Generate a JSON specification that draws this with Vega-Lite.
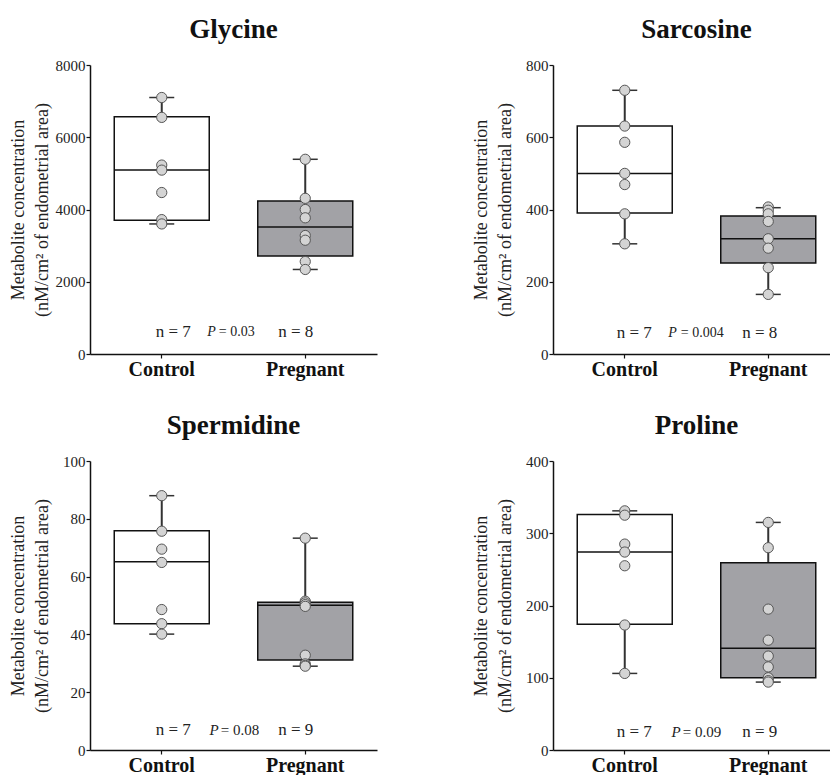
{
  "$schema": "https://vega.github.io/schema/vega-lite/v6.json",
  "padding": {"left": 9, "top": 16, "right": 0, "bottom": 0},
  "spacing": {"row": 33, "column": 95},
  "columns": 2,
  "datasets": {
    "points": [
      {"m": "Glycine", "g": "Control", "v": 7100}, {"m": "Glycine", "g": "Control", "v": 6550}, {"m": "Glycine", "g": "Control", "v": 5230}, {"m": "Glycine", "g": "Control", "v": 5090}, {"m": "Glycine", "g": "Control", "v": 4470}, {"m": "Glycine", "g": "Control", "v": 3720}, {"m": "Glycine", "g": "Control", "v": 3600},
      {"m": "Glycine", "g": "Pregnant", "v": 5390}, {"m": "Glycine", "g": "Pregnant", "v": 4310}, {"m": "Glycine", "g": "Pregnant", "v": 4000}, {"m": "Glycine", "g": "Pregnant", "v": 3770}, {"m": "Glycine", "g": "Pregnant", "v": 3280}, {"m": "Glycine", "g": "Pregnant", "v": 3150}, {"m": "Glycine", "g": "Pregnant", "v": 2560}, {"m": "Glycine", "g": "Pregnant", "v": 2340},
      {"m": "Sarcosine", "g": "Control", "v": 730}, {"m": "Sarcosine", "g": "Control", "v": 631}, {"m": "Sarcosine", "g": "Control", "v": 586}, {"m": "Sarcosine", "g": "Control", "v": 500}, {"m": "Sarcosine", "g": "Control", "v": 469}, {"m": "Sarcosine", "g": "Control", "v": 388}, {"m": "Sarcosine", "g": "Control", "v": 305},
      {"m": "Sarcosine", "g": "Pregnant", "v": 407}, {"m": "Sarcosine", "g": "Pregnant", "v": 398}, {"m": "Sarcosine", "g": "Pregnant", "v": 388}, {"m": "Sarcosine", "g": "Pregnant", "v": 367}, {"m": "Sarcosine", "g": "Pregnant", "v": 319}, {"m": "Sarcosine", "g": "Pregnant", "v": 293}, {"m": "Sarcosine", "g": "Pregnant", "v": 239}, {"m": "Sarcosine", "g": "Pregnant", "v": 165},
      {"m": "Spermidine", "g": "Control", "v": 88.0}, {"m": "Spermidine", "g": "Control", "v": 75.7}, {"m": "Spermidine", "g": "Control", "v": 69.5}, {"m": "Spermidine", "g": "Control", "v": 64.9}, {"m": "Spermidine", "g": "Control", "v": 48.6}, {"m": "Spermidine", "g": "Control", "v": 43.7}, {"m": "Spermidine", "g": "Control", "v": 40.1},
      {"m": "Spermidine", "g": "Pregnant", "v": 73.3}, {"m": "Spermidine", "g": "Pregnant", "v": 51.5}, {"m": "Spermidine", "g": "Pregnant", "v": 50.9}, {"m": "Spermidine", "g": "Pregnant", "v": 50.3}, {"m": "Spermidine", "g": "Pregnant", "v": 49.7}, {"m": "Spermidine", "g": "Pregnant", "v": 32.8}, {"m": "Spermidine", "g": "Pregnant", "v": 29.8}, {"m": "Spermidine", "g": "Pregnant", "v": 29.3}, {"m": "Spermidine", "g": "Pregnant", "v": 29.0},
      {"m": "Proline", "g": "Control", "v": 331}, {"m": "Proline", "g": "Control", "v": 325}, {"m": "Proline", "g": "Control", "v": 285}, {"m": "Proline", "g": "Control", "v": 274}, {"m": "Proline", "g": "Control", "v": 255}, {"m": "Proline", "g": "Control", "v": 173}, {"m": "Proline", "g": "Control", "v": 106},
      {"m": "Proline", "g": "Pregnant", "v": 315}, {"m": "Proline", "g": "Pregnant", "v": 280}, {"m": "Proline", "g": "Pregnant", "v": 195}, {"m": "Proline", "g": "Pregnant", "v": 152}, {"m": "Proline", "g": "Pregnant", "v": 130}, {"m": "Proline", "g": "Pregnant", "v": 115}, {"m": "Proline", "g": "Pregnant", "v": 100}, {"m": "Proline", "g": "Pregnant", "v": 96}, {"m": "Proline", "g": "Pregnant", "v": 94}
    ],
    "boxes": [
      {"m": "Glycine", "g": "Control", "lo": 3600, "q1": 3700, "med": 5090, "q3": 6570, "hi": 7100},
      {"m": "Glycine", "g": "Pregnant", "lo": 2340, "q1": 2710, "med": 3515, "q3": 4235, "hi": 5390},
      {"m": "Sarcosine", "g": "Control", "lo": 305, "q1": 390, "med": 500, "q3": 631, "hi": 730},
      {"m": "Sarcosine", "g": "Pregnant", "lo": 165, "q1": 252, "med": 319, "q3": 382, "hi": 405},
      {"m": "Spermidine", "g": "Control", "lo": 40.1, "q1": 43.7, "med": 65.1, "q3": 75.9, "hi": 88.0},
      {"m": "Spermidine", "g": "Pregnant", "lo": 29.0, "q1": 31.1, "med": 50.1, "q3": 51.1, "hi": 73.3},
      {"m": "Proline", "g": "Control", "lo": 106, "q1": 174, "med": 274, "q3": 326, "hi": 331},
      {"m": "Proline", "g": "Pregnant", "lo": 94, "q1": 100, "med": 141, "q3": 259, "hi": 315}
    ],
    "labels": [
      {"m": "Glycine", "g": "Control", "t": "n = 7", "y": 600},
      {"m": "Glycine", "g": "Pregnant", "t": "n = 8", "y": 600},
      {"m": "Sarcosine", "g": "Control", "t": "n = 7", "y": 58},
      {"m": "Sarcosine", "g": "Pregnant", "t": "n = 8", "y": 58},
      {"m": "Spermidine", "g": "Control", "t": "n = 7", "y": 6.8},
      {"m": "Spermidine", "g": "Pregnant", "t": "n = 9", "y": 6.8},
      {"m": "Proline", "g": "Control", "t": "n = 7", "y": 25},
      {"m": "Proline", "g": "Pregnant", "t": "n = 9", "y": 25}
    ],
    "pvals": [
      {"m": "Glycine", "g": "Control", "p": "= 0.03", "y": 600},
      {"m": "Sarcosine", "g": "Control", "p": "= 0.004", "y": 58},
      {"m": "Spermidine", "g": "Control", "p": "= 0.08", "y": 6.8},
      {"m": "Proline", "g": "Control", "p": "= 0.09", "y": 25}
    ]
  },
  "concat": [
    {
      "title": "Glycine", "width": 287, "height": 289,
      "layer": [
        {"data": {"name": "boxes"}, "transform": [{"filter": "datum.m === 'Glycine'"}], "mark": {"type": "rule", "color": "#333", "strokeWidth": 2},
         "encoding": {"x": {"field": "g", "type": "nominal", "scale": {"domain": ["Control", "Pregnant"], "paddingInner": 0, "paddingOuter": 0}},
           "y": {"field": "lo", "type": "quantitative", "scale": {"domain": [0, 8000], "nice": false}, "axis": {"title": ["Metabolite concentration", "(nM/cm² of endometrial area)"], "values": [0, 1000, 2000, 3000, 4000, 5000, 6000, 7000, 8000], "labelExpr": "datum.value % 2000 === 0 ? datum.label : ''", "tickSize": {"condition": {"test": "datum.value % 2000 === 0", "value": 4}, "value": 2.5}}},
           "y2": {"field": "hi"}}},
        {"data": {"name": "boxes"}, "transform": [{"filter": "datum.m === 'Glycine'"}], "mark": {"type": "bar", "size": 95, "stroke": "#111", "strokeWidth": 1.5},
         "encoding": {"x": {"field": "g", "type": "nominal"}, "y": {"field": "q1", "type": "quantitative"}, "y2": {"field": "q3"},
           "fill": {"field": "g", "type": "nominal", "scale": {"domain": ["Control", "Pregnant"], "range": ["#ffffff", "#a2a2a6"]}, "legend": null}}},
        {"data": {"name": "boxes"}, "transform": [{"filter": "datum.m === 'Glycine'"}], "mark": {"type": "tick", "size": 95, "thickness": 1.5, "color": "#111", "opacity": 1},
         "encoding": {"x": {"field": "g", "type": "nominal"}, "y": {"field": "med", "type": "quantitative"}}},
        {"data": {"name": "boxes"}, "transform": [{"filter": "datum.m === 'Glycine'"}], "mark": {"type": "tick", "size": 25, "thickness": 1.5, "color": "#333", "opacity": 1},
         "encoding": {"x": {"field": "g", "type": "nominal"}, "y": {"field": "lo", "type": "quantitative"}}},
        {"data": {"name": "boxes"}, "transform": [{"filter": "datum.m === 'Glycine'"}], "mark": {"type": "tick", "size": 25, "thickness": 1.5, "color": "#333", "opacity": 1},
         "encoding": {"x": {"field": "g", "type": "nominal"}, "y": {"field": "hi", "type": "quantitative"}}},
        {"data": {"name": "points"}, "transform": [{"filter": "datum.m === 'Glycine'"}], "mark": {"type": "circle", "size": 105, "fill": "#d4d4d4", "stroke": "#555", "strokeWidth": 1, "opacity": 1, "fillOpacity": 1},
         "encoding": {"x": {"field": "g", "type": "nominal"}, "y": {"field": "v", "type": "quantitative"}}},
        {"data": {"name": "labels"}, "transform": [{"filter": "datum.m === 'Glycine' && datum.g === 'Control'"}], "mark": {"type": "text", "align": "left", "dx": -6, "baseline": "middle", "fontSize": 17, "color": "#222"},
         "encoding": {"x": {"field": "g", "type": "nominal"}, "y": {"field": "y", "type": "quantitative"}, "text": {"field": "t"}}},
        {"data": {"name": "labels"}, "transform": [{"filter": "datum.m === 'Glycine' && datum.g === 'Pregnant'"}], "mark": {"type": "text", "align": "right", "dx": 8, "baseline": "middle", "fontSize": 17, "color": "#222"},
         "encoding": {"x": {"field": "g", "type": "nominal"}, "y": {"field": "y", "type": "quantitative"}, "text": {"field": "t"}}},
        {"data": {"name": "pvals"}, "transform": [{"filter": "datum.m === 'Glycine'"}], "mark": {"type": "text", "align": "right", "dx": 54, "baseline": "middle", "fontSize": 14, "fontStyle": "italic", "color": "#222", "text": "P"},
         "encoding": {"x": {"field": "g", "type": "nominal"}, "y": {"field": "y", "type": "quantitative"}}},
        {"data": {"name": "pvals"}, "transform": [{"filter": "datum.m === 'Glycine'"}], "mark": {"type": "text", "align": "left", "dx": 57, "baseline": "middle", "fontSize": 14, "color": "#222"},
         "encoding": {"x": {"field": "g", "type": "nominal"}, "y": {"field": "y", "type": "quantitative"}, "text": {"field": "p"}}}
      ]
    },
    {
      "title": "Sarcosine", "width": 287, "height": 289,
      "layer": [
        {"data": {"name": "boxes"}, "transform": [{"filter": "datum.m === 'Sarcosine'"}], "mark": {"type": "rule", "color": "#333", "strokeWidth": 2},
         "encoding": {"x": {"field": "g", "type": "nominal", "scale": {"domain": ["Control", "Pregnant"], "paddingInner": 0, "paddingOuter": 0}},
           "y": {"field": "lo", "type": "quantitative", "scale": {"domain": [0, 800], "nice": false}, "axis": {"title": ["Metabolite concentration", "(nM/cm² of endometrial area)"], "values": [0, 100, 200, 300, 400, 500, 600, 700, 800], "labelExpr": "datum.value % 200 === 0 ? datum.label : ''", "tickSize": {"condition": {"test": "datum.value % 200 === 0", "value": 4}, "value": 2.5}}},
           "y2": {"field": "hi"}}},
        {"data": {"name": "boxes"}, "transform": [{"filter": "datum.m === 'Sarcosine'"}], "mark": {"type": "bar", "size": 95, "stroke": "#111", "strokeWidth": 1.5},
         "encoding": {"x": {"field": "g", "type": "nominal"}, "y": {"field": "q1", "type": "quantitative"}, "y2": {"field": "q3"},
           "fill": {"field": "g", "type": "nominal", "scale": {"domain": ["Control", "Pregnant"], "range": ["#ffffff", "#a2a2a6"]}, "legend": null}}},
        {"data": {"name": "boxes"}, "transform": [{"filter": "datum.m === 'Sarcosine'"}], "mark": {"type": "tick", "size": 95, "thickness": 1.5, "color": "#111", "opacity": 1},
         "encoding": {"x": {"field": "g", "type": "nominal"}, "y": {"field": "med", "type": "quantitative"}}},
        {"data": {"name": "boxes"}, "transform": [{"filter": "datum.m === 'Sarcosine'"}], "mark": {"type": "tick", "size": 25, "thickness": 1.5, "color": "#333", "opacity": 1},
         "encoding": {"x": {"field": "g", "type": "nominal"}, "y": {"field": "lo", "type": "quantitative"}}},
        {"data": {"name": "boxes"}, "transform": [{"filter": "datum.m === 'Sarcosine'"}], "mark": {"type": "tick", "size": 25, "thickness": 1.5, "color": "#333", "opacity": 1},
         "encoding": {"x": {"field": "g", "type": "nominal"}, "y": {"field": "hi", "type": "quantitative"}}},
        {"data": {"name": "points"}, "transform": [{"filter": "datum.m === 'Sarcosine'"}], "mark": {"type": "circle", "size": 105, "fill": "#d4d4d4", "stroke": "#555", "strokeWidth": 1, "opacity": 1, "fillOpacity": 1},
         "encoding": {"x": {"field": "g", "type": "nominal"}, "y": {"field": "v", "type": "quantitative"}}},
        {"data": {"name": "labels"}, "transform": [{"filter": "datum.m === 'Sarcosine' && datum.g === 'Control'"}], "mark": {"type": "text", "align": "left", "dx": -8, "baseline": "middle", "fontSize": 17, "color": "#222"},
         "encoding": {"x": {"field": "g", "type": "nominal"}, "y": {"field": "y", "type": "quantitative"}, "text": {"field": "t"}}},
        {"data": {"name": "labels"}, "transform": [{"filter": "datum.m === 'Sarcosine' && datum.g === 'Pregnant'"}], "mark": {"type": "text", "align": "right", "dx": 9, "baseline": "middle", "fontSize": 17, "color": "#222"},
         "encoding": {"x": {"field": "g", "type": "nominal"}, "y": {"field": "y", "type": "quantitative"}, "text": {"field": "t"}}},
        {"data": {"name": "pvals"}, "transform": [{"filter": "datum.m === 'Sarcosine'"}], "mark": {"type": "text", "align": "right", "dx": 52, "baseline": "middle", "fontSize": 14, "fontStyle": "italic", "color": "#222", "text": "P"},
         "encoding": {"x": {"field": "g", "type": "nominal"}, "y": {"field": "y", "type": "quantitative"}}},
        {"data": {"name": "pvals"}, "transform": [{"filter": "datum.m === 'Sarcosine'"}], "mark": {"type": "text", "align": "left", "dx": 56, "baseline": "middle", "fontSize": 14, "color": "#222"},
         "encoding": {"x": {"field": "g", "type": "nominal"}, "y": {"field": "y", "type": "quantitative"}, "text": {"field": "p"}}}
      ]
    },
    {
      "title": "Spermidine", "width": 287, "height": 289,
      "layer": [
        {"data": {"name": "boxes"}, "transform": [{"filter": "datum.m === 'Spermidine'"}], "mark": {"type": "rule", "color": "#333", "strokeWidth": 2},
         "encoding": {"x": {"field": "g", "type": "nominal", "scale": {"domain": ["Control", "Pregnant"], "paddingInner": 0, "paddingOuter": 0}},
           "y": {"field": "lo", "type": "quantitative", "scale": {"domain": [0, 100], "nice": false}, "axis": {"title": ["Metabolite concentration", "(nM/cm² of endometrial area)"], "values": [0, 10, 20, 30, 40, 50, 60, 70, 80, 90, 100], "labelExpr": "datum.value % 20 === 0 ? datum.label : ''", "tickSize": {"condition": {"test": "datum.value % 20 === 0", "value": 4}, "value": 2.5}}},
           "y2": {"field": "hi"}}},
        {"data": {"name": "boxes"}, "transform": [{"filter": "datum.m === 'Spermidine'"}], "mark": {"type": "bar", "size": 95, "stroke": "#111", "strokeWidth": 1.5},
         "encoding": {"x": {"field": "g", "type": "nominal"}, "y": {"field": "q1", "type": "quantitative"}, "y2": {"field": "q3"},
           "fill": {"field": "g", "type": "nominal", "scale": {"domain": ["Control", "Pregnant"], "range": ["#ffffff", "#a2a2a6"]}, "legend": null}}},
        {"data": {"name": "boxes"}, "transform": [{"filter": "datum.m === 'Spermidine'"}], "mark": {"type": "tick", "size": 95, "thickness": 1.5, "color": "#111", "opacity": 1},
         "encoding": {"x": {"field": "g", "type": "nominal"}, "y": {"field": "med", "type": "quantitative"}}},
        {"data": {"name": "boxes"}, "transform": [{"filter": "datum.m === 'Spermidine'"}], "mark": {"type": "tick", "size": 25, "thickness": 1.5, "color": "#333", "opacity": 1},
         "encoding": {"x": {"field": "g", "type": "nominal"}, "y": {"field": "lo", "type": "quantitative"}}},
        {"data": {"name": "boxes"}, "transform": [{"filter": "datum.m === 'Spermidine'"}], "mark": {"type": "tick", "size": 25, "thickness": 1.5, "color": "#333", "opacity": 1},
         "encoding": {"x": {"field": "g", "type": "nominal"}, "y": {"field": "hi", "type": "quantitative"}}},
        {"data": {"name": "points"}, "transform": [{"filter": "datum.m === 'Spermidine'"}], "mark": {"type": "circle", "size": 105, "fill": "#d4d4d4", "stroke": "#555", "strokeWidth": 1, "opacity": 1, "fillOpacity": 1},
         "encoding": {"x": {"field": "g", "type": "nominal"}, "y": {"field": "v", "type": "quantitative"}}},
        {"data": {"name": "labels"}, "transform": [{"filter": "datum.m === 'Spermidine' && datum.g === 'Control'"}], "mark": {"type": "text", "align": "left", "dx": -6, "baseline": "middle", "fontSize": 17, "color": "#222"},
         "encoding": {"x": {"field": "g", "type": "nominal"}, "y": {"field": "y", "type": "quantitative"}, "text": {"field": "t"}}},
        {"data": {"name": "labels"}, "transform": [{"filter": "datum.m === 'Spermidine' && datum.g === 'Pregnant'"}], "mark": {"type": "text", "align": "right", "dx": 8, "baseline": "middle", "fontSize": 17, "color": "#222"},
         "encoding": {"x": {"field": "g", "type": "nominal"}, "y": {"field": "y", "type": "quantitative"}, "text": {"field": "t"}}},
        {"data": {"name": "pvals"}, "transform": [{"filter": "datum.m === 'Spermidine'"}], "mark": {"type": "text", "align": "right", "dx": 57, "baseline": "middle", "fontSize": 15, "fontStyle": "italic", "color": "#222", "text": "P"},
         "encoding": {"x": {"field": "g", "type": "nominal"}, "y": {"field": "y", "type": "quantitative"}}},
        {"data": {"name": "pvals"}, "transform": [{"filter": "datum.m === 'Spermidine'"}], "mark": {"type": "text", "align": "left", "dx": 59, "baseline": "middle", "fontSize": 15, "color": "#222"},
         "encoding": {"x": {"field": "g", "type": "nominal"}, "y": {"field": "y", "type": "quantitative"}, "text": {"field": "p"}}}
      ]
    },
    {
      "title": "Proline", "width": 287, "height": 289,
      "layer": [
        {"data": {"name": "boxes"}, "transform": [{"filter": "datum.m === 'Proline'"}], "mark": {"type": "rule", "color": "#333", "strokeWidth": 2},
         "encoding": {"x": {"field": "g", "type": "nominal", "scale": {"domain": ["Control", "Pregnant"], "paddingInner": 0, "paddingOuter": 0}},
           "y": {"field": "lo", "type": "quantitative", "scale": {"domain": [0, 400], "nice": false}, "axis": {"title": ["Metabolite concentration", "(nM/cm² of endometrial area)"], "values": [0, 50, 100, 150, 200, 250, 300, 350, 400], "labelExpr": "datum.value % 100 === 0 ? datum.label : ''", "tickSize": {"condition": {"test": "datum.value % 100 === 0", "value": 4}, "value": 2.5}}},
           "y2": {"field": "hi"}}},
        {"data": {"name": "boxes"}, "transform": [{"filter": "datum.m === 'Proline'"}], "mark": {"type": "bar", "size": 95, "stroke": "#111", "strokeWidth": 1.5},
         "encoding": {"x": {"field": "g", "type": "nominal"}, "y": {"field": "q1", "type": "quantitative"}, "y2": {"field": "q3"},
           "fill": {"field": "g", "type": "nominal", "scale": {"domain": ["Control", "Pregnant"], "range": ["#ffffff", "#a2a2a6"]}, "legend": null}}},
        {"data": {"name": "boxes"}, "transform": [{"filter": "datum.m === 'Proline'"}], "mark": {"type": "tick", "size": 95, "thickness": 1.5, "color": "#111", "opacity": 1},
         "encoding": {"x": {"field": "g", "type": "nominal"}, "y": {"field": "med", "type": "quantitative"}}},
        {"data": {"name": "boxes"}, "transform": [{"filter": "datum.m === 'Proline'"}], "mark": {"type": "tick", "size": 25, "thickness": 1.5, "color": "#333", "opacity": 1},
         "encoding": {"x": {"field": "g", "type": "nominal"}, "y": {"field": "lo", "type": "quantitative"}}},
        {"data": {"name": "boxes"}, "transform": [{"filter": "datum.m === 'Proline'"}], "mark": {"type": "tick", "size": 25, "thickness": 1.5, "color": "#333", "opacity": 1},
         "encoding": {"x": {"field": "g", "type": "nominal"}, "y": {"field": "hi", "type": "quantitative"}}},
        {"data": {"name": "points"}, "transform": [{"filter": "datum.m === 'Proline'"}], "mark": {"type": "circle", "size": 105, "fill": "#d4d4d4", "stroke": "#555", "strokeWidth": 1, "opacity": 1, "fillOpacity": 1},
         "encoding": {"x": {"field": "g", "type": "nominal"}, "y": {"field": "v", "type": "quantitative"}}},
        {"data": {"name": "labels"}, "transform": [{"filter": "datum.m === 'Proline' && datum.g === 'Control'"}], "mark": {"type": "text", "align": "left", "dx": -8, "baseline": "middle", "fontSize": 17, "color": "#222"},
         "encoding": {"x": {"field": "g", "type": "nominal"}, "y": {"field": "y", "type": "quantitative"}, "text": {"field": "t"}}},
        {"data": {"name": "labels"}, "transform": [{"filter": "datum.m === 'Proline' && datum.g === 'Pregnant'"}], "mark": {"type": "text", "align": "right", "dx": 9, "baseline": "middle", "fontSize": 17, "color": "#222"},
         "encoding": {"x": {"field": "g", "type": "nominal"}, "y": {"field": "y", "type": "quantitative"}, "text": {"field": "t"}}},
        {"data": {"name": "pvals"}, "transform": [{"filter": "datum.m === 'Proline'"}], "mark": {"type": "text", "align": "right", "dx": 56, "baseline": "middle", "fontSize": 15, "fontStyle": "italic", "color": "#222", "text": "P"},
         "encoding": {"x": {"field": "g", "type": "nominal"}, "y": {"field": "y", "type": "quantitative"}}},
        {"data": {"name": "pvals"}, "transform": [{"filter": "datum.m === 'Proline'"}], "mark": {"type": "text", "align": "left", "dx": 58, "baseline": "middle", "fontSize": 15, "color": "#222"},
         "encoding": {"x": {"field": "g", "type": "nominal"}, "y": {"field": "y", "type": "quantitative"}, "text": {"field": "p"}}}
      ]
    }
  ],
  "config": {
    "font": "Liberation Serif",
    "background": "white",
    "view": {"stroke": null},
    "axis": {"grid": false, "domainColor": "#111", "domainWidth": 1.5, "tickColor": "#111", "tickWidth": 1.2, "labelColor": "#222", "labelFont": "Liberation Serif", "titleFont": "Liberation Serif"},
    "axisX": {"labelAngle": 0, "labelFontSize": 20, "labelFontWeight": "bold", "labelColor": "#111", "labelFont": "Liberation Serif", "tickSize": 4, "labelPadding": 1, "title": null},
    "axisY": {"labelFontSize": 15, "labelPadding": 1, "labelFont": "Liberation Serif", "titleFont": "Liberation Serif", "titleFontSize": 18, "titleFontWeight": "normal", "titleLineHeight": 24, "titleColor": "#222", "titleX": -72, "titleBaseline": "middle", "format": "d"},
    "title": {"fontSize": 27, "fontWeight": "bold", "font": "Liberation Serif", "color": "#111", "offset": 14}
  }
}
